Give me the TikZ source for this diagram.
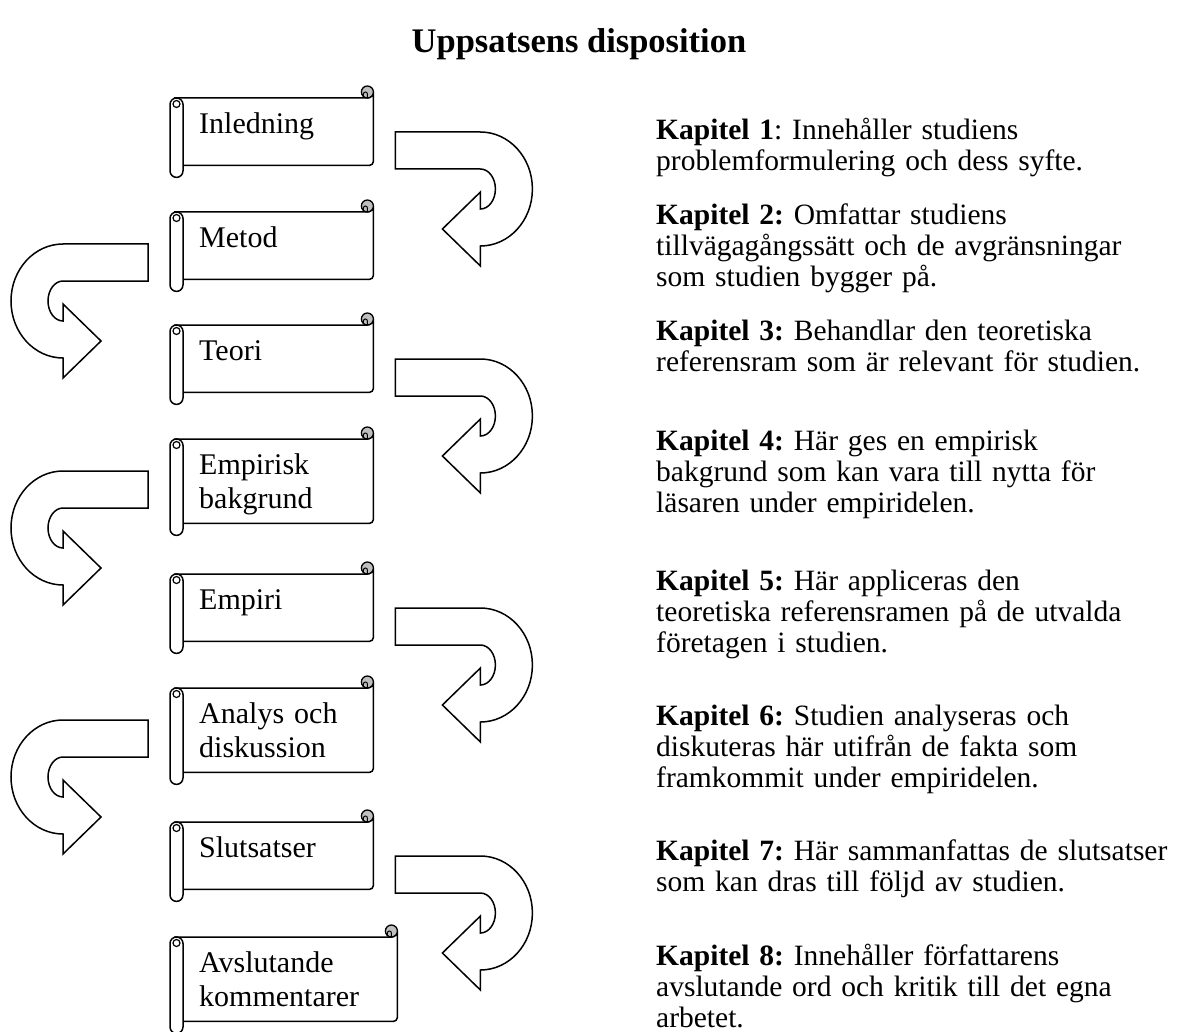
\documentclass[tikz,border=0pt]{standalone}
\usepackage{fontspec}
\setmainfont{Liberation Serif}
\frenchspacing
\usetikzlibrary{positioning,calc,backgrounds}
\newcommand{\labelsize}{\fontsize{30}{34}\selectfont}
\newcommand{\bodysize}{\fontsize{29.5}{31}\selectfont}
\tikzset{
  heading/.style={font=\fontsize{34.5}{40}\selectfont\bfseries,anchor=base,inner sep=0pt},
  scrollbox/.style={anchor=north west,inner xsep=16pt,inner ysep=0pt,
    text width=#1,align=left,text height=35pt,text depth=32pt,font=\labelsize},
  scrollbox/.default=158pt,
  tall/.style={text depth=49pt},
  sheet/.style={draw=black,line width=1.5pt,fill=white},
  curl/.style={draw=black,line width=1.3pt,fill=black!25},
  uarrow/.style={draw=black,line width=1.5pt,fill=white,line join=miter},
  chapter/.style={anchor=base west,inner sep=0pt,text width=540pt,align=left,font=\bodysize},
  % u-turn block arrow, origin at the free end of the stem (top corner)
  pics/uturn/.style={code={
    \path[uarrow] (0,0) -- (85,0)
      arc[start angle=90,end angle=-90,x radius=52,y radius=57]
      -- (85,-134) -- (47,-97) -- (85,-60) -- (85,-77)
      arc[start angle=-90,end angle=90,x radius=15,y radius=20]
      -- (0,-37) -- cycle;
  }},
}
\begin{document}
\begin{tikzpicture}[x=1pt,y=1pt]
  \useasboundingbox (0,0) rectangle (1185,-1032);
  \node[heading] (title) at (579,-53) {Uppsatsens disposition};

  \node[scrollbox] (s1) at (183,-98) {Inledning};
  \node[scrollbox] (s2) at (183,-212) {Metod};
  \node[scrollbox] (s3) at (183,-325) {Teori};
  \node[scrollbox,tall] (s4) at (183,-439) {Empirisk\\bakgrund};
  \node[scrollbox] (s5) at (183,-574) {Empiri};
  \node[scrollbox,tall] (s6) at (183,-688) {Analys och\\diskussion};
  \node[scrollbox] (s7) at (183,-822) {Slutsatser};
  \node[scrollbox=182pt,tall] (s8) at (183,-937) {Avslutande\\kommentarer};

  % scroll outlines behind the labels
  \begin{scope}[on background layer]
    \foreach \i in {1,...,8}{
      \draw[sheet] ($(s\i.north west)+(-8,0)$) -- ($(s\i.north east)+(-6,0)$)
        arc[start angle=-90,end angle=0,radius=6]
        -- ($(s\i.south east)+(0,4)$) arc[start angle=0,end angle=-90,radius=4]
        -- ($(s\i.south west)+(-6,0)$) -- cycle;
      \draw[sheet,rounded corners=6.5pt] ($(s\i.north west)+(-13,0)$) rectangle ($(s\i.south west)+(0,-12)$);
      \draw[sheet,line width=1.2pt] ($(s\i.north west)+(-6.5,-6)$) circle[radius=3.5];
      \draw[curl] ($(s\i.north east)+(-6,6)$) circle[radius=6];
      \draw[line width=1pt] ($(s\i.north east)+(-6,0)$) -- ++(0,4) arc[start angle=0,end angle=180,radius=2] -- ++(0,-3);
    }
  \end{scope}

  \foreach \i in {1,3,5,7} \pic at ($(s\i.north east)+(22,-34)$) {uturn};
  \foreach \i in {2,4,6} \pic[xscale=-1] at ($(s\i.north west)+(-35,-32)$) {uturn};

  \node[chapter] (k1) at (656,-140) {\textbf{Kapitel 1}: Innehåller studiens\\problemformulering och dess syfte.};
  \node[chapter] (k2) at (656,-225) {\textbf{Kapitel 2:} Omfattar studiens\\tillvägagångssätt och de avgränsningar\\som studien bygger på.};
  \node[chapter] (k3) at (656,-340) {\textbf{Kapitel 3:} Behandlar den teoretiska\\referensram som är relevant för studien.};
  \node[chapter] (k4) at (656,-450) {\textbf{Kapitel 4:} Här ges en empirisk\\bakgrund som kan vara till nytta för\\läsaren under empiridelen.};
  \node[chapter] (k5) at (656,-590) {\textbf{Kapitel 5:} Här appliceras den\\teoretiska referensramen på de utvalda\\företagen i studien.};
  \node[chapter] (k6) at (656,-725) {\textbf{Kapitel 6:} Studien analyseras och\\diskuteras här utifrån de fakta som\\framkommit under empiridelen.};
  \node[chapter] (k7) at (656,-860) {\textbf{Kapitel 7:} Här sammanfattas de slutsatser\\som kan dras till följd av studien.};
  \node[chapter] (k8) at (656,-965) {\textbf{Kapitel 8:} Innehåller författarens\\avslutande ord och kritik till det egna\\arbetet.};
\end{tikzpicture}
\end{document}
